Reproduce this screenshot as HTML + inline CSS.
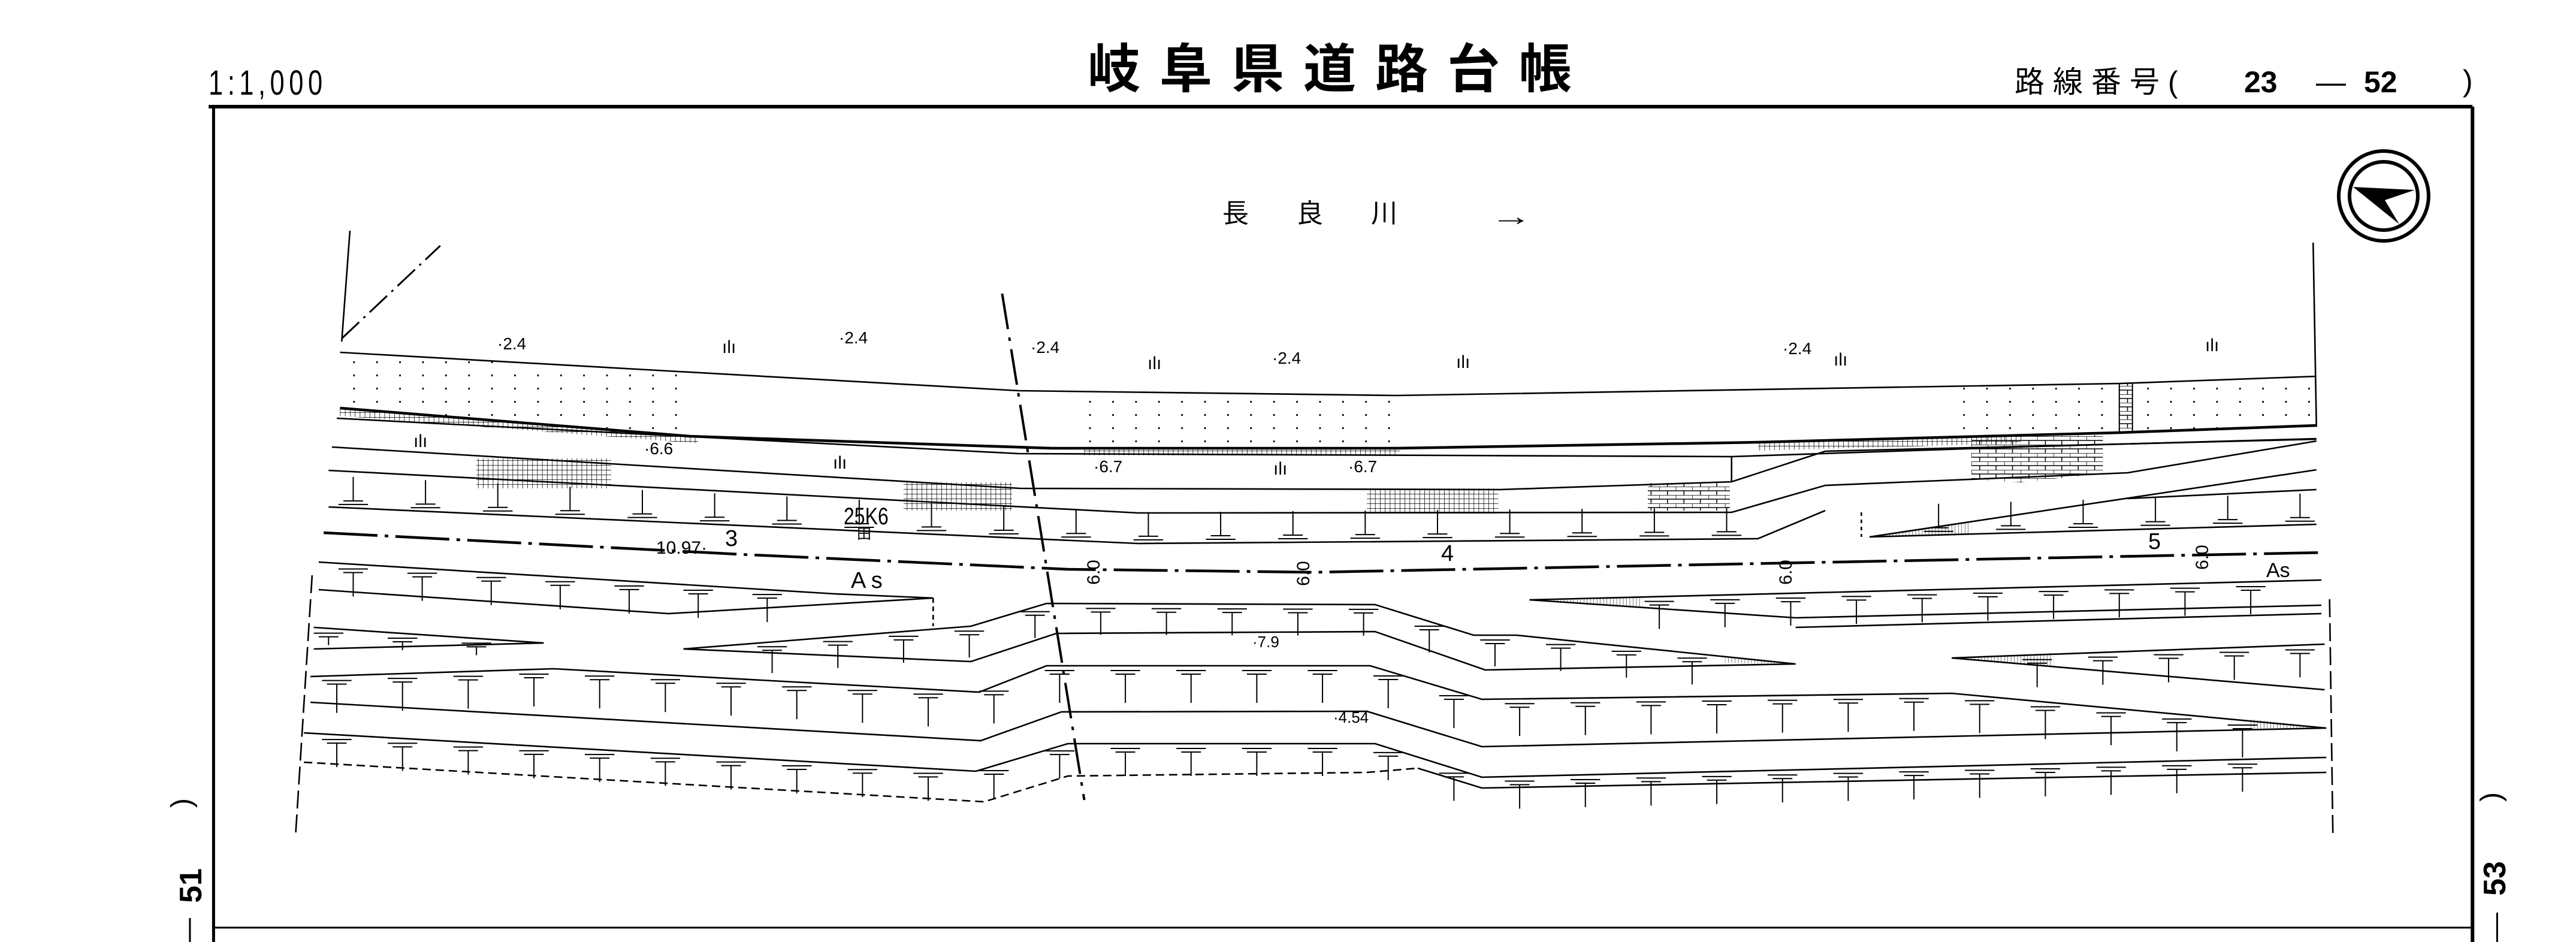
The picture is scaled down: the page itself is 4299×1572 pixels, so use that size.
<!DOCTYPE html>
<html><head><meta charset="utf-8">
<style>
html,body{margin:0;padding:0;background:#fff;}
body{width:4299px;height:1572px;position:relative;overflow:hidden;font-family:"Liberation Sans","Noto Sans CJK JP",sans-serif;color:#000;}
.t{position:absolute;white-space:nowrap;line-height:1;}
#m *{vector-effect:non-scaling-stroke;}
</style></head><body>
<svg id="m" width="4299" height="1572" viewBox="0 0 1568 1572" preserveAspectRatio="none" style="position:absolute;left:0;top:0">
<defs>
<pattern id="dots" width="14" height="22" patternUnits="userSpaceOnUse"><rect x="5" y="9" width="1" height="3" fill="#000"/></pattern>
<pattern id="grid" width="3" height="8" patternUnits="userSpaceOnUse"><path d="M0 0H3M0 0V8" stroke="#000" stroke-width="1.5" fill="none"/></pattern>
<pattern id="brick" width="10" height="14" patternUnits="userSpaceOnUse"><path d="M0 0H10M0 7H10M0 0V7M5 7V14" stroke="#000" stroke-width="1.5" fill="none"/></pattern>
<pattern id="vh" width="2" height="10" patternUnits="userSpaceOnUse"><path d="M0 0V10" stroke="#000" stroke-width="1" fill="none"/></pattern>
</defs>
<g fill="none" stroke="#000" stroke-width="2.6">
<path d="M127 178H1505" stroke-width="6"/>
<path d="M130 178V1572" stroke-width="5"/>
<path d="M1505 178V1572" stroke-width="6"/>
<path d="M130 1548H1505" stroke-width="3"/>
<path d="M115.6 1532V1572M1520 1523V1572" stroke-width="3"/>
<path d="M213 385L208 570"/>
<path d="M208 565L268 410" stroke-width="3" stroke-dasharray="40 10 4 10"/>
<path d="M1408 405L1410 712"/>
<path d="M190 960L180 1390" stroke-dasharray="30 10"/>
<path d="M1418 1000L1420 1390" stroke-dasharray="30 10"/>
<path d="M610 490L660 1335" stroke-width="4" stroke-dasharray="60 14 6 14"/>
<polygon points="207,588 420,622 420,728 207,680" fill="url(#dots)" stroke="none"/>
<polygon points="655,653 850,660 850,748 655,748" fill="url(#dots)" stroke="none"/>
<polygon points="1195,644 1290,640 1290,722 1195,730" fill="url(#dots)" stroke="none"/>
<polygon points="1298,640 1410,628 1410,710 1298,722" fill="url(#dots)" stroke="none"/>
<path d="M1290 640V722M1298 640V722" stroke-width="2"/>
<rect x="1290" y="640" width="8" height="82" fill="url(#brick)" stroke="none"/>
<polygon points="207,680 425,728 425,740 207,694" fill="url(#grid)" stroke="none"/>
<polygon points="660,748 852,748 852,760 660,760" fill="url(#grid)" stroke="none"/>
<polygon points="1070,738 1230,727 1230,740 1070,752" fill="url(#grid)" stroke="none"/>
<rect x="290" y="765" width="82" height="50" fill="url(#grid)" stroke="none"/>
<rect x="550" y="805" width="66" height="47" fill="url(#grid)" stroke="none"/>
<rect x="832" y="815" width="80" height="42" fill="url(#grid)" stroke="none"/>
<rect x="1003" y="806" width="50" height="46" fill="url(#brick)" stroke="none"/>
<polygon points="1200,730 1280,726 1280,790 1230,805 1200,800" fill="url(#brick)" stroke="none"/>
<polyline points="207,588 400,618 620,652 850,660 1290,640 1410,628"/>
<polyline points="207,681 420,728 640,748 850,748 1070,738 1290,722 1410,710" stroke-width="4.5"/>
<polyline points="205,698 620,757 1054,762 1240,745 1410,732"/>
<polyline points="202,746 621,815 913,817 1054,804 1111,753 1410,733"/>
<path d="M1054 762V804"/>
<polyline points="200,785 693,856 1054,855 1111,810 1295,789 1410,736"/>
<polyline points="200,846 693,907 1070,899 1111,852"/>
<polyline points="1138,896 1410,784"/>
<polyline points="1138,896 1410,875"/>
<polyline points="1295,832 1410,817"/>
<path d="M1133 855V896" stroke-dasharray="6 6"/>
<polygon points="1138,896 1200,872 1200,890" fill="url(#vh)" stroke="none"/>
<polyline points="197,889 450,925 650,950 800,955 1415,922" stroke-width="4.5" stroke-dasharray="90 12 6 12"/>
<polyline points="194,938 508,991 568,998"/>
<polyline points="194,984 407,1024 568,998"/>
<path d="M568 998V1045" stroke-dasharray="8 6"/>
<polyline points="191,1047 331,1073 191,1083"/>
<polyline points="416,1083 591,1045 637,1007 837,1009 897,1060 923,1060 1093,1108 904,1118 837,1054 643,1057 591,1104 416,1083"/>
<polyline points="931,1001 1413,968"/>
<polyline points="931,1001 1093,1031 1413,1010"/>
<polyline points="1093,1047 1413,1024"/>
<polyline points="1188,1098 1415,1075"/>
<polyline points="1188,1098 1415,1151"/>
<polygon points="931,1001 1000,996 1000,1012" fill="url(#vh)" stroke="none"/>
<polygon points="1188,1098 1250,1092 1250,1112" fill="url(#vh)" stroke="none"/>
<polygon points="1093,1108 1050,1098 1050,1106" fill="url(#vh)" stroke="none"/>
<polyline points="189,1129 337,1116 596,1155 637,1111 834,1111 902,1167 1188,1157 1416,1215"/>
<polyline points="189,1172 597,1236 646,1188 832,1187 902,1246 1416,1215"/>
<polygon points="1416,1215 1370,1200 1370,1218" fill="url(#vh)" stroke="none"/>
<polyline points="185,1223 594,1287 650,1241 837,1241 902,1297 1416,1264"/>
<polyline points="185,1272 599,1338 650,1295 832,1289 863,1282" stroke-dasharray="14 8"/>
<polyline points="863,1282 902,1315 1416,1289"/>
<g id="ticks" stroke-width="2"></g>
</g>
</svg>
<svg width="200" height="200" style="position:absolute;left:3878px;top:227px" viewBox="-100 -100 200 200">
<circle r="75" fill="none" stroke="#000" stroke-width="6"/>
<circle r="57" fill="none" stroke="#000" stroke-width="6"/>
<polygon points="-51,-15 52,-10 2,7 26,47" fill="#000"/>
</svg>
<div class="t" style="left:348px;top:110px;font-size:58px;transform:scaleX(0.75);transform-origin:left;letter-spacing:10px">1:1,000</div>
<div class="t" style="left:1815px;top:72px;font-size:88px;font-weight:bold;letter-spacing:32px">岐阜県道路台帳</div>
<div class="t" style="left:3362px;top:112px;font-size:50px;letter-spacing:14px">路線番号(</div>
<div class="t" style="left:3745px;top:112px;font-size:50px;font-weight:bold">23</div>
<div class="t" style="left:3865px;top:112px;font-size:50px">—</div>
<div class="t" style="left:3945px;top:112px;font-size:50px;font-weight:bold">52</div>
<div class="t" style="left:4110px;top:110px;font-size:50px">)</div>
<div class="t" style="left:2040px;top:335px;font-size:44px;letter-spacing:80px">長良川</div>
<div class="t" style="left:2500px;top:340px;font-size:44px;font-weight:bold;transform:scaleX(1.6)">→</div>
<div class="t" style="left:296px;top:1316px;font-size:48px;transform:rotate(-90deg)">)</div>
<div class="t" style="left:290px;top:1452px;font-size:52px;font-weight:bold;transform:rotate(-90deg)">51</div>
<div class="t" style="left:4150px;top:1306px;font-size:48px;transform:rotate(-90deg)">)</div>
<div class="t" style="left:4135px;top:1440px;font-size:52px;font-weight:bold;transform:rotate(-90deg)">53</div>
<div class="t" style="left:830px;top:560px;font-size:28px">·2.4</div>
<div class="t" style="left:1400px;top:550px;font-size:28px">·2.4</div>
<div class="t" style="left:1720px;top:566px;font-size:28px">·2.4</div>
<div class="t" style="left:2123px;top:584px;font-size:28px">·2.4</div>
<div class="t" style="left:2975px;top:568px;font-size:28px">·2.4</div>
<div class="t" style="left:1205px;top:565px;font-size:30px">ılı</div>
<div class="t" style="left:1915px;top:592px;font-size:30px">ılı</div>
<div class="t" style="left:2430px;top:590px;font-size:30px">ılı</div>
<div class="t" style="left:3060px;top:586px;font-size:30px">ılı</div>
<div class="t" style="left:3680px;top:562px;font-size:30px">ılı</div>
<div class="t" style="left:690px;top:722px;font-size:30px">ılı</div>
<div class="t" style="left:1390px;top:758px;font-size:30px">ılı</div>
<div class="t" style="left:2125px;top:768px;font-size:30px">ılı</div>
<div class="t" style="left:1075px;top:735px;font-size:28px">·6.6</div>
<div class="t" style="left:1825px;top:765px;font-size:28px">·6.7</div>
<div class="t" style="left:2250px;top:765px;font-size:28px">·6.7</div>
<div class="t" style="left:1408px;top:842px;font-size:40px;transform:scaleX(0.8);transform-origin:left">25K6</div>
<div class="t" style="left:1430px;top:880px;font-size:24px">田</div>
<div class="t" style="left:1095px;top:900px;font-size:30px">10.97·</div>
<div class="t" style="left:1210px;top:880px;font-size:38px">3</div>
<div class="t" style="left:1420px;top:950px;font-size:38px">A s</div>
<div class="t" style="left:2405px;top:905px;font-size:38px">4</div>
<div class="t" style="left:3585px;top:885px;font-size:38px">5</div>
<div class="t" style="left:3782px;top:935px;font-size:34px">As</div>
<div class="t" style="left:2090px;top:1058px;font-size:26px">·7.9</div>
<div class="t" style="left:2225px;top:1184px;font-size:26px">·4.54</div>
<div class="t" style="left:1805px;top:940px;font-size:30px;transform:rotate(-90deg)">6.0</div>
<div class="t" style="left:2155px;top:942px;font-size:30px;transform:rotate(-90deg)">6.0</div>
<div class="t" style="left:2960px;top:940px;font-size:30px;transform:rotate(-90deg)">6.0</div>
<div class="t" style="left:3655px;top:915px;font-size:30px;transform:rotate(-90deg)">6.0</div>
<script>
(function(){
var g=document.getElementById('ticks'),s='';
function yat(p,x){for(var i=0;i<p.length-1;i++){var a=p[i],b=p[i+1];if(x>=a[0]&&x<=b[0]){return a[1]+(b[1]-a[1])*(x-a[0])/(b[0]-a[0]);}}return null;}
function row(p,x0,x1,sp,len,up){for(var x=x0;x<=x1;x+=sp){var y=yat(p,x);if(y==null)continue;
if(up){s+='M'+(x-9)+' '+(y-6)+'H'+(x+9)+'M'+(x-6)+' '+(y-12)+'H'+(x+6)+'M'+x+' '+(y-12)+'V'+(y-12-len);}
else{s+='M'+(x-9)+' '+(y+8)+'H'+(x+9)+'M'+(x-6)+' '+(y+14)+'H'+(x+6)+'M'+x+' '+(y+14)+'V'+(y+14+len);}}}
row([[200,846],[693,907],[1070,899]],215,1060,44,40,true);
row([[1138,896],[1410,875]],1180,1400,44,40,true);
row([[194,938],[508,991],[568,998]],215,480,42,40,false);
row([[191,1047],[331,1073]],200,300,45,14,false);
row([[416,1083],[591,1045],[637,1007],[837,1009],[897,1060],[923,1060],[1093,1108]],470,1060,40,38,false);
row([[931,1001],[1413,968]],1010,1400,40,40,false);
row([[1188,1098],[1415,1075]],1240,1400,40,40,false);
row([[189,1129],[337,1116],[596,1155],[637,1111],[834,1111],[902,1167],[1188,1157],[1416,1215]],205,1400,40,48,false);
row([[185,1223],[594,1287],[650,1241],[837,1241],[902,1297],[1416,1264]],205,1400,40,40,false);
var e=document.createElementNS('http://www.w3.org/2000/svg','path');e.setAttribute('d',s);g.appendChild(e);
})();
</script>
</body></html>
